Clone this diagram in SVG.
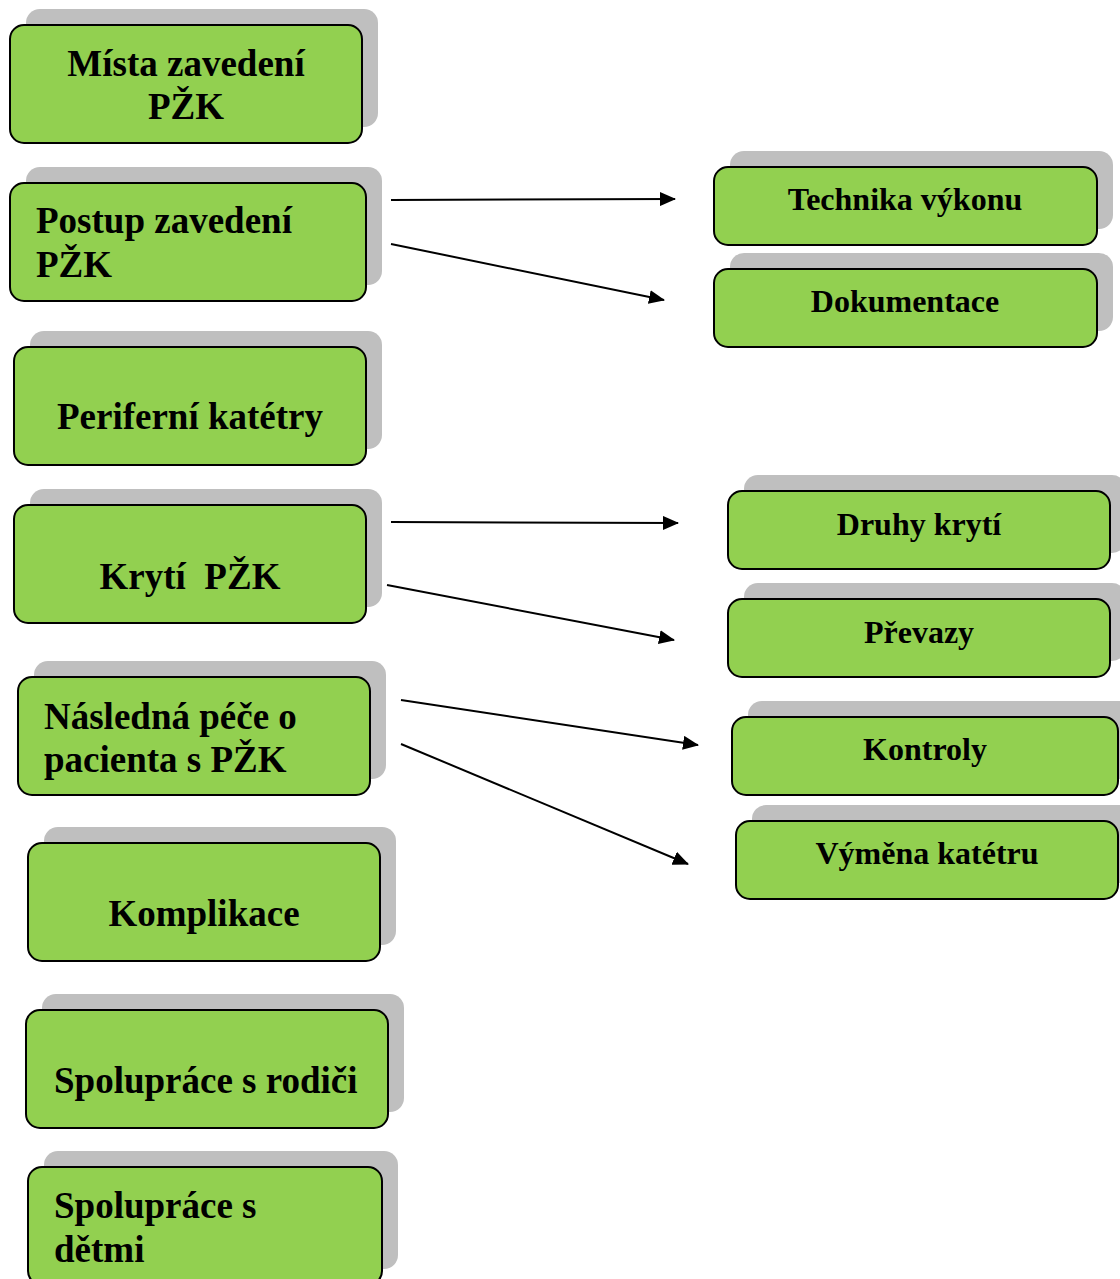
<svg xmlns="http://www.w3.org/2000/svg" width="1120" height="1279" viewBox="0 0 1120 1279">
<defs>
<style>
.sh{fill:#bfbfbf;}
.bx{fill:#92d050;stroke:#000;stroke-width:2;}
.t{font-family:"Liberation Serif","Times New Roman",serif;font-weight:bold;font-size:37px;fill:#000;}
.tr{font-family:"Liberation Serif","Times New Roman",serif;font-weight:bold;font-size:32px;fill:#000;text-anchor:middle;}
.c{text-anchor:middle;}
.ln{stroke:#000;stroke-width:2;fill:none;marker-end:url(#ah);}
</style>
<marker id="ah" viewBox="0 0 16 14" refX="15" refY="7" markerWidth="16" markerHeight="14" markerUnits="userSpaceOnUse" orient="auto">
<path d="M0,0 L16,7 L0,14 z" fill="#000"/>
</marker>
</defs>
<rect width="1120" height="1279" fill="#fff"/>

<g id="connectors">
<line class="ln" x1="391" y1="200" x2="675" y2="199"/>
<line class="ln" x1="391" y1="244" x2="664" y2="300"/>
<line class="ln" x1="391" y1="522" x2="678" y2="523"/>
<line class="ln" x1="387" y1="585" x2="674" y2="640"/>
<line class="ln" x1="401" y1="700" x2="698" y2="745"/>
<line class="ln" x1="401" y1="744" x2="688" y2="864"/>
</g>

<g id="n1">
<rect class="sh" x="26" y="9" width="352" height="118" rx="14"/>
<rect class="bx" x="10" y="25" width="352" height="118" rx="14"/>
<text class="t c" x="186" y="76">Místa zavedení</text>
<text class="t c" x="186" y="119">PŽK</text>
</g>
<g id="n2">
<rect class="sh" x="26" y="167" width="356" height="118" rx="14"/>
<rect class="bx" x="10" y="183" width="356" height="118" rx="14"/>
<text class="t" x="36" y="233">Postup zavedení</text>
<text class="t" x="36" y="277">PŽK</text>
</g>
<g id="n3">
<rect class="sh" x="30" y="331" width="352" height="118" rx="14"/>
<rect class="bx" x="14" y="347" width="352" height="118" rx="14"/>
<text class="t c" x="190" y="429">Periferní katétry</text>
</g>
<g id="n4">
<rect class="sh" x="30" y="489" width="352" height="118" rx="14"/>
<rect class="bx" x="14" y="505" width="352" height="118" rx="14"/>
<text class="t c" x="190" y="589" xml:space="preserve">Krytí  PŽK</text>
</g>
<g id="n5">
<rect class="sh" x="34" y="661" width="352" height="118" rx="14"/>
<rect class="bx" x="18" y="677" width="352" height="118" rx="14"/>
<text class="t" x="44" y="729">Následná péče o</text>
<text class="t" x="44" y="772">pacienta s PŽK</text>
</g>
<g id="n6">
<rect class="sh" x="44" y="827" width="352" height="118" rx="14"/>
<rect class="bx" x="28" y="843" width="352" height="118" rx="14"/>
<text class="t c" x="204" y="926">Komplikace</text>
</g>
<g id="n7">
<rect class="sh" x="42" y="994" width="362" height="118" rx="14"/>
<rect class="bx" x="26" y="1010" width="362" height="118" rx="14"/>
<text class="t" x="54" y="1093">Spolupráce s rodiči</text>
</g>
<g id="n8">
<rect class="sh" x="44" y="1151" width="354" height="118" rx="14"/>
<rect class="bx" x="28" y="1167" width="354" height="118" rx="14"/>
<text class="t" x="54" y="1218">Spolupráce s</text>
<text class="t" x="54" y="1262">dětmi</text>
</g>

<g id="r1">
<rect class="sh" x="730" y="151" width="383" height="78" rx="14"/>
<rect class="bx" x="714" y="167" width="383" height="78" rx="14"/>
<text class="tr" x="905" y="210">Technika výkonu</text>
</g>
<g id="r2">
<rect class="sh" x="730" y="253" width="383" height="78" rx="14"/>
<rect class="bx" x="714" y="269" width="383" height="78" rx="14"/>
<text class="tr" x="905" y="312">Dokumentace</text>
</g>
<g id="r3">
<rect class="sh" x="744" y="475" width="382" height="78" rx="14"/>
<rect class="bx" x="728" y="491" width="382" height="78" rx="14"/>
<text class="tr" x="919" y="535">Druhy krytí</text>
</g>
<g id="r4">
<rect class="sh" x="744" y="583" width="382" height="78" rx="14"/>
<rect class="bx" x="728" y="599" width="382" height="78" rx="14"/>
<text class="tr" x="919" y="643">Převazy</text>
</g>
<g id="r5">
<rect class="sh" x="748" y="701" width="386" height="78" rx="14"/>
<rect class="bx" x="732" y="717" width="386" height="78" rx="14"/>
<text class="tr" x="925" y="760">Kontroly</text>
</g>
<g id="r6">
<rect class="sh" x="752" y="805" width="382" height="78" rx="14"/>
<rect class="bx" x="736" y="821" width="382" height="78" rx="14"/>
<text class="tr" x="927" y="864">Výměna katétru</text>
</g>
</svg>
